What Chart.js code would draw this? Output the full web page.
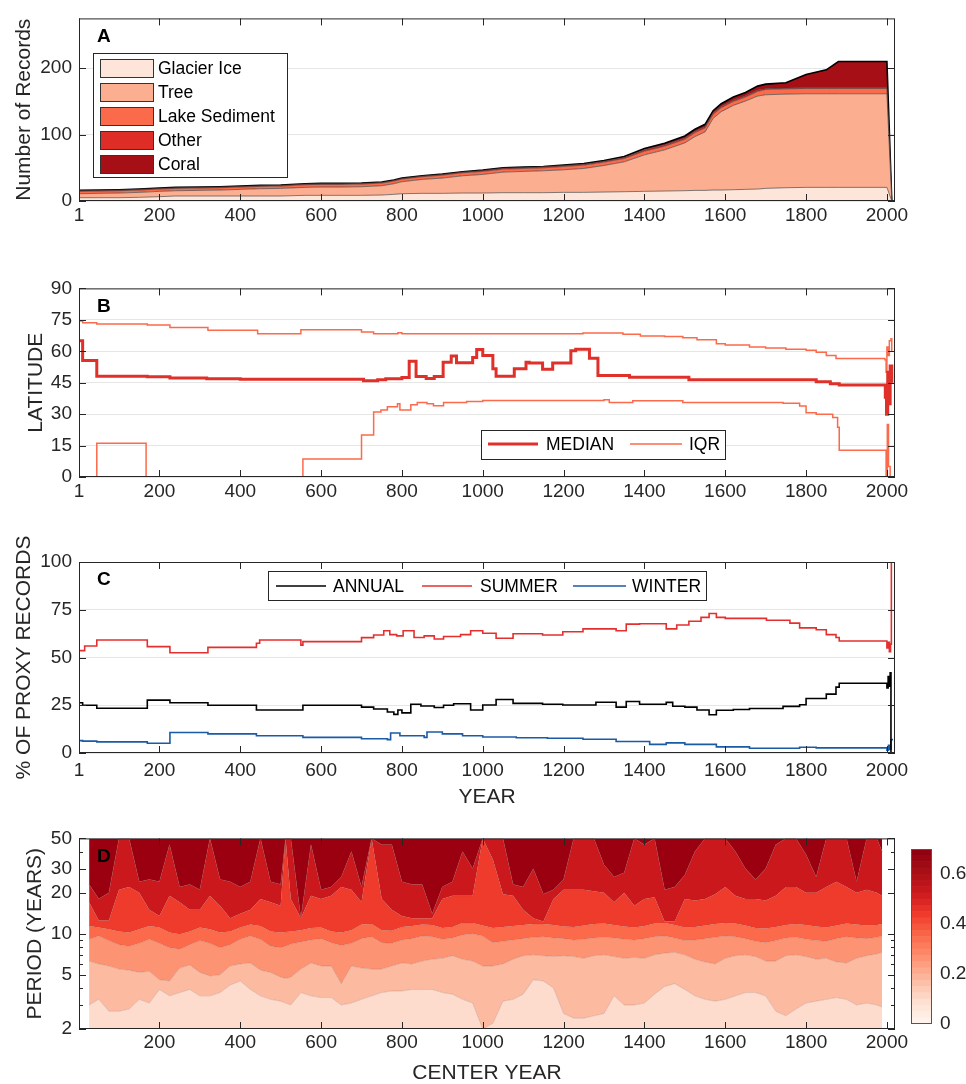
<!DOCTYPE html>
<html lang="en">
<head>
<meta charset="UTF-8">
<title>Proxy records</title>
<script src="https://cdn.jsdelivr.net/npm/chart.js@4"></script>
<style>
  body { margin: 0; background: #fff; }
  #wrap { position: relative; width: 966px; height: 1084px; }
  canvas { position: absolute; left: 0; }
</style>
</head>
<body>
<div id="wrap">
  <canvas id="chartA" width="966" height="240" style="top:0"></canvas>
  <canvas id="chartB" width="966" height="250" style="top:270px"></canvas>
  <canvas id="chartC" width="966" height="285" style="top:530px"></canvas>
  <canvas id="chartD" width="966" height="264" style="top:820px"></canvas>
  <canvas id="colorbar" width="66" height="264" style="top:820px; left:900px"></canvas>
</div>
<script>
// ---- data ----
var xTicks = [1, 200, 400, 600, 800, 1000, 1200, 1400, 1600, 1800, 2000];
var xTicksD = [200, 400, 600, 800, 1000, 1200, 1400, 1600, 1800, 2000];

// A: number of records by archive
var yearsA = [1,50,100,150,200,240,300,350,400,450,500,560,600,650,700,750,780,800,850,900,950,1000,1050,1100,1150,1200,1250,1300,1350,1400,1450,1500,1525,1550,1570,1590,1620,1650,1680,1700,1750,1800,1850,1880,2000,2012];
var glacierIce = [5,5,5,5.5,6.5,7.5,7.5,7.5,7.5,7.5,7.5,8.5,8.5,8.5,8.5,9,10,11,11.5,11.5,12,12,12.5,12.5,12.5,13,13,13.5,14,14.5,15,15.5,16,16,16.5,16.5,17,17.5,18,19,20,20.5,20.5,20.5,20.5,0];
var tree = [6,6.5,7,7.5,8,8,8.5,9,10,11,11.5,12,12.5,12.5,13,14,16,18,21,23,26,28,31,32,33,34,36,40,45,55,62,72,81,88,108,118,127,133,140,141,141,141,141,141,141,0];
var lakeSediment = [3.5,3.5,3.5,3.5,3.5,3.5,3.5,3.5,3.5,3.5,3.5,4,4,4,4,4,4,4,4,4.5,4.5,4.5,4.5,4.5,4.5,5,5,5,5,5.5,5.5,5.5,6,6,6,6,6,6,7,8,8,8,8,8,8,0];
var other = [1,1,1,1,1,1,1,1,1,1,1,1,1,1,1,1,1,1,1,1,1,1.5,1.5,1.5,1.5,1.5,1.5,1.5,1.5,2,2,2,2,2,2,2,2,2,2,1,1,1,1,1,1,0];
var coral = [0.5,0.5,0.5,0.5,0.5,0.5,0.5,0.5,0.5,0.5,0.5,0.5,0.5,0.5,0.5,0.5,0.5,0.5,0.5,0.5,0.5,0.5,0.5,0.5,0.5,0.5,1,1,1.5,2,2.5,3,3,3.5,3.5,4,4.5,5,6,7,8,20,27,39.5,39.5,0];
var recordTicks = [0, 100, 200];

// B: latitude (step series, [year, value])
var medianLat = [[1,65],[10,55.6],[45,48.1],[170,47.8],[226,47.3],[317,46.9],[400,46.6],[700,46.6],[705,45.9],[740,46.4],[760,46.9],[800,47.5],[818,55.2],[835,48],[860,47],[880,48],[902,54.8],[922,57.7],[935,54.5],[975,57],[985,60.8],[1000,58],[1025,51.7],[1033,48.1],[1078,51.7],[1107,54.8],[1115,54.4],[1148,51.4],[1173,54.4],[1218,60.3],[1230,61],[1264,56.7],[1285,48.4],[1363,47.6],[1510,46.4],[1825,45.5],[1860,44.5],[1882,43.9],[1993,43.9],[1996,38],[1999,30],[2002,50],[2005,35],[2008,53],[2012,45]];
var upperIQR = [[1,74.5],[10,73.6],[45,73],[170,72.5],[226,71.3],[320,70],[443,68.4],[550,70.3],[700,69.2],[730,68.3],[790,68.8],[800,68.3],[1000,68.4],[1248,68.7],[1347,68.1],[1390,67.3],[1450,67],[1495,66.4],[1530,65.5],[1578,63.6],[1600,63],[1660,62],[1700,61.5],[1750,61],[1800,60.5],[1825,59.5],[1850,58],[1874,56.5],[1995,56],[1998,50],[2000,62],[2003,58],[2006,65],[2010,66],[2012,60]];
var lowerIQR = [[1,0],[45,16.1],[167,0],[555,8.6],[700,20],[730,31],[748,32],[764,33.5],[789,35],[795,32],[822,34.5],[838,35.5],[862,35],[878,34],[903,35.5],[960,36],[1000,36.5],[1300,36.9],[1313,35.5],[1371,36.4],[1495,35.6],[1743,35.2],[1784,33.9],[1800,30.7],[1825,30],[1866,28.4],[1878,23.75],[1882,12.8],[1995,12.8],[1998,0],[2001,25],[2004,5],[2008,0],[2012,0]];
var latTicks = [0, 15, 30, 45, 60, 75, 90];

// C: % of proxy records by season
var annualPct = [[1,26.3],[10,25],[45,23.4],[170,27.7],[226,26.3],[320,25],[440,22.5],[555,25],[700,24],[730,23],[764,21.5],[780,20.2],[790,22.5],[800,21],[822,25.5],[847,24.6],[880,23.8],[903,25],[928,25.8],[970,22.5],[1000,25.1],[1033,28],[1075,26],[1148,25.5],[1198,25.1],[1280,26.6],[1330,24],[1355,27],[1388,25.5],[1454,26.5],[1470,24.5],[1500,24],[1530,22.5],[1560,20],[1578,22.4],[1620,22.8],[1660,23.3],[1743,24.4],[1784,25.3],[1800,28.5],[1850,30.8],[1874,34.5],[1882,36.5],[1997,36.5],[2000,34],[2003,40],[2006,35],[2008,42],[2010,0],[2015,0]];
var summerPct = [[1,53.6],[15,56],[45,59.2],[170,55.7],[226,52.5],[320,55.3],[440,57.5],[448,59.2],[550,56.5],[555,58.3],[700,60.4],[730,61.8],[755,64],[770,62],[787,61.3],[803,64],[830,60.5],[855,61.3],[880,59.7],[903,61],[945,62],[970,64],[1000,62.7],[1033,60.1],[1075,62.4],[1148,61.8],[1198,63.5],[1248,65],[1330,64],[1355,67.5],[1388,67.7],[1454,65],[1480,67],[1510,69],[1540,71],[1560,73],[1578,71],[1600,70.5],[1702,69.5],[1760,68],[1784,65.5],[1825,64.5],[1850,62],[1874,60.5],[1882,58.6],[1997,58.6],[2000,55],[2003,58],[2006,53],[2009,57],[2011,100],[2015,100]];
var winterPct = [[1,6.5],[10,6.2],[45,5.8],[170,5.1],[226,10.7],[320,10],[440,9],[555,8.2],[700,7.5],[764,7],[772,10.5],[795,9],[855,8.2],[862,11],[900,10],[950,9],[1000,8.4],[1083,8],[1160,7.7],[1248,7.2],[1330,6],[1413,4.5],[1454,5.3],[1500,4.5],[1578,3.2],[1660,2.5],[1743,2.5],[1784,3],[1825,2.7],[1997,2.7],[2000,1.5],[2004,4],[2008,2],[2010,7],[2015,7]];
var pctTicks = [0, 25, 50, 75, 100];

// D: contour band boundaries (period, years) per center year
var yearsD = [26,50,75,100,125,150,175,200,225,250,275,300,325,350,375,400,425,450,475,500,512,525,550,575,600,625,650,675,700,725,750,775,800,825,850,875,900,925,950,975,1000,1025,1050,1075,1100,1125,1150,1175,1200,1225,1250,1275,1300,1325,1350,1375,1400,1425,1450,1475,1500,1525,1550,1575,1600,1625,1650,1675,1700,1725,1750,1775,1800,1825,1850,1875,1900,1925,1950,1975,1988];
var bnd1 = [3.0,3.3,2.7,2.7,2.8,3.3,3.1,3.9,3.5,3.7,3.9,3.5,3.5,3.7,4.2,4.5,3.9,3.5,3.3,3.2, 3.1, 3.0,3.7,3.5,3.4,3.4,3.0,3.1,3.3,3.5,3.7,3.8,3.8,3.9,3.9,3.9,3.7,3.6,3.3,3.1,2.0, 2.2,3.2,3.3,3.6,4.6,4.5,4.0,2.6,2.4,2.4,2.5,2.6,3.5,3.0,3.0,3.1,3.6,4.1,4.3,3.9, 3.5,3.3,3.2,3.3,3.5,3.7,3.7,3.5,2.7,2.5,2.8,3.1,3.2,3.3,3.4,3.3,3.0,3.1,3.0,2.9];
var bnd2 = [6.3,6.0,5.8,5.5,5.4,5.2,5.3,4.6,4.5,5.6,5.9,5.2,4.9,5.0,5.8,6.0,6.1,5.4,5.2,4.8, 4.7, 4.8,5.5,6.1,5.8,5.8,4.3,5.8,5.6,5.5,5.5,5.8,6.1,6.0,6.3,6.5,6.6,6.9,6.5,6.3,5.8, 5.8,6.0,6.5,6.9,7.0,6.9,6.8,6.9,6.8,6.6,6.9,7.0,6.8,6.6,6.7,6.6,7.0,7.2,7.3,7.0, 6.5,6.2,6.0,6.6,6.9,7.0,6.8,6.3,6.3,6.9,7.0,6.8,6.5,6.6,6.2,6.1,6.6,6.9,7.1,7.3];
var bnd3 = [9.1,9.6,8.9,8.3,8.1,8.5,9.1,8.5,7.9,7.7,8.3,8.9,8.5,7.9,8.3,9.1,9.6,9.1,8.1,7.9, 8.1, 8.4,8.7,9.0,9.2,8.6,8.2,8.5,9.2,9.5,8.6,8.5,9.0,9.2,9.6,9.5,9.1,9.3,9.8,10.0,9.6, 8.6,8.8,9.0,9.2,9.4,9.5,9.3,9.2,9.0,9.1,9.3,9.4,9.3,9.1,9.0,9.2,9.5,9.6,9.3,8.9, 9.0,9.2,9.4,9.6,9.5,9.2,8.8,8.6,8.9,9.3,9.4,9.1,8.9,8.8,9.2,9.5,9.3,9.2,9.4,9.6];
var bnd4 = [11.4,11.1,10.8,10.4,10.2,10.8,11.4,11.1,10.2,9.9,10.4,11.1,10.8,10.2,10.4,11.1,11.7,11.4,10.4,10.2, 10.3, 10.4,10.6,11.0,11.1,10.4,10.2,10.6,11.7,11.8,10.6,10.5,11.2,11.4,11.7,11.6,11.0,11.2,12.0,12.0,11.5, 11.0,11.2,11.4,11.6,11.8,11.8,11.6,11.3,11.2,11.5,11.8,11.9,11.6,11.3,11.1,11.4,11.9,12.0,11.6,11.1, 11.2,11.5,11.8,12.0,11.9,11.5,11.0,10.9,11.2,11.6,11.8,11.6,11.3,11.1,11.5,11.9,11.7,11.5,11.6,11.8];
var bnd5 = [17,12.5,12.5,21,22,20,15,13.5,19,17,15,15,19,16,13,14,15,18,17,16, 50, 18,13,19,18,19,22,21,17,50,18,15,13.5,13,13,13,18,19,19,19,50, 35,19.5,19,15,13,12.3,18,21,21,21,20.5,20,17,20,16,18,18.5,12.3,12.3,18, 17.5,18,19.5,22,19,18,18,17.5,19,22,22,20,20,22,24,22,20,21,20,19];
var bnd6 = [23,18,20,50,50,24,25,24,45,22,23,21,50,25,24,22,24,50,24,23, 50, 50,13,45,21,22,26,40,22,50,45,45,24,23,23,14,22,24,40,30,50, 50,50,23,22,30,19.5,21,25,50,50,50,32,26,28,50,45,50,21,22,27, 40,50,50,50,40,30,25,30,45,50,50,38,26,50,50,50,24,50,50,40];
var periodTicks = [2, 5, 10, 20, 30, 50];
var periodMinor = [3, 4, 6, 7, 8, 9, 40];
var cbLevels = [0,0.025,0.05,0.075,0.1,0.125,0.15,0.175,0.2,0.225,0.25,0.275,0.3,0.325,0.35,0.375,0.4,0.425,0.45,0.475,0.5,0.525,0.55,0.575,0.6,0.625,0.65,0.675,0.7];
var cbTicks = [0, 0.2, 0.4, 0.6];

// ---- helpers ----
var FONT = "'Liberation Sans', Arial, Helvetica, sans-serif";
var INK = '#262626';
Chart.defaults.font.family = FONT;
Chart.defaults.color = INK;
Chart.defaults.animation = false;
Chart.defaults.plugins.legend.display = false;
Chart.defaults.plugins.tooltip.enabled = false;
Chart.defaults.elements.point.radius = 0;

function pts(xs, ys) { return xs.map(function (x, i) { return { x: x, y: ys[i] }; }); }
function pairs(arr) { return arr.map(function (p) { return { x: p[0], y: p[1] }; }); }

function xAxis(ticks, pad, h) {
  return {
    type: 'linear', min: 1, max: 2020,
    afterBuildTicks: function (s) { s.ticks = ticks.map(function (v) { return { value: v }; }); },
    afterFit: function (s) { s.height = h; },
    grid: { display: false, drawTicks: false },
    border: { display: false },
    ticks: { padding: pad, font: { size: 19 }, maxRotation: 0, autoSkip: false, callback: function (v) { return String(v); } }
  };
}
function yAxis(min, max, ticks, grid) {
  return {
    type: 'linear', min: min, max: max,
    afterBuildTicks: function (s) { s.ticks = ticks.map(function (v) { return { value: v }; }); },
    afterFit: function (s) { s.width = 79; },
    grid: { display: grid, color: '#e6e6e6', drawTicks: false },
    border: { display: false },
    ticks: { padding: 7, font: { size: 19 }, autoSkip: false, callback: function (v) { return String(v); } }
  };
}

// box, inward ticks, panel letter and axis titles
var frame = {
  id: 'frame',
  afterDatasetsDraw: function (chart, args, o) {
    if (!o || !o.show) return;
    var ctx = chart.ctx, a = chart.chartArea;
    var xs = chart.scales.x, ys = chart.scales.y;
    ctx.save();
    ctx.strokeStyle = o.boxColor || INK;
    ctx.lineWidth = 1;
    ctx.strokeRect(a.left + 0.5, a.top + 0.5, a.right - a.left - 1, a.bottom - a.top - 1);
    if (!o.noTicks) {
      ctx.beginPath();
      xs.ticks.forEach(function (t) {
        var p = Math.round(xs.getPixelForValue(t.value)) + 0.5;
        ctx.moveTo(p, a.bottom); ctx.lineTo(p, a.bottom - 7);
        ctx.moveTo(p, a.top); ctx.lineTo(p, a.top + 7);
      });
      var yt = function (v, len) {
        var p = Math.round(ys.getPixelForValue(v)) + 0.5;
        ctx.moveTo(a.left, p); ctx.lineTo(a.left + len, p);
        ctx.moveTo(a.right, p); ctx.lineTo(a.right - len, p);
      };
      ys.ticks.forEach(function (t) { yt(t.value, 7); });
      (o.minorY || []).forEach(function (v) { yt(v, 4); });
      ctx.stroke();
    }
    ctx.fillStyle = '#000';
    ctx.textBaseline = 'middle';
    if (o.label) {
      ctx.font = 'bold 19px ' + FONT;
      ctx.textAlign = 'left';
      ctx.fillText(o.label, a.left + 18, a.top + 18);
    }
    ctx.fillStyle = INK;
    ctx.font = '21px ' + FONT;
    ctx.textAlign = 'center';
    if (o.yTitle) {
      ctx.save();
      ctx.translate(o.yTitleX, (a.top + a.bottom) / 2);
      ctx.rotate(-Math.PI / 2);
      ctx.fillText(o.yTitle, 0, 0);
      ctx.restore();
    }
    if (o.xTitle) ctx.fillText(o.xTitle, (a.left + a.right) / 2, o.xTitleY);
    ctx.restore();
  }
};

// legend drawn in a box at a fixed place
var boxLegend = {
  id: 'boxLegend',
  afterDraw: function (chart, args, o) {
    if (!o || !o.items) return;
    var ctx = chart.ctx, b = o.box;
    ctx.save();
    ctx.fillStyle = '#fff';
    ctx.fillRect(b[0], b[1], b[2], b[3]);
    ctx.strokeStyle = INK; ctx.lineWidth = 1;
    ctx.strokeRect(b[0] + 0.5, b[1] + 0.5, b[2], b[3]);
    ctx.font = '17.5px ' + FONT;
    ctx.textBaseline = 'middle';
    ctx.textAlign = 'left';
    o.items.forEach(function (it) {
      var ds = chart.data.datasets[it.ds];
      if (o.patch) {
        ctx.fillStyle = ds.backgroundColor;
        ctx.fillRect(it.sx, it.sy - 9, it.sw, 18);
        ctx.strokeStyle = '#333';
        ctx.strokeRect(it.sx + 0.5, it.sy - 8.5, it.sw, 18);
      } else {
        ctx.strokeStyle = ds.borderColor; ctx.lineWidth = ds.borderWidth;
        ctx.beginPath(); ctx.moveTo(it.sx, it.sy); ctx.lineTo(it.sx + it.sw, it.sy); ctx.stroke();
      }
      ctx.fillStyle = '#000';
      ctx.fillText(ds.label, it.tx, it.sy + 1);
    });
    ctx.restore();
  }
};
Chart.register(frame, boxLegend);

// ---- A ----
var edge = 'rgba(60,60,60,0.65)';
var yA = yAxis(0, 275, recordTicks, true);
yA.stacked = true;
new Chart(document.getElementById('chartA'), {
  type: 'line',
  data: { datasets: [
    { label: 'Glacier Ice', data: pts(yearsA, glacierIce), backgroundColor: '#fee5d9', borderColor: edge, borderWidth: 1, fill: 'origin' },
    { label: 'Tree', data: pts(yearsA, tree), backgroundColor: '#fcae91', borderColor: edge, borderWidth: 1, fill: '-1' },
    { label: 'Lake Sediment', data: pts(yearsA, lakeSediment), backgroundColor: '#fb6a4a', borderColor: edge, borderWidth: 1, fill: '-1' },
    { label: 'Other', data: pts(yearsA, other), backgroundColor: '#de2d26', borderColor: edge, borderWidth: 1, fill: '-1' },
    { label: 'Coral', data: pts(yearsA, coral), backgroundColor: '#a50f15', borderColor: '#000', borderWidth: 1.6, fill: '-1' }
  ]},
  options: {
    responsive: false,
    layout: { padding: { top: 9, right: 71, left: 0, bottom: 0 } },
    scales: { x: xAxis(xTicks, 3.5, 39), y: yA },
    plugins: {
      frame: { show: true, label: 'A', yTitle: 'Number of Records', yTitleX: 24 },
      boxLegend: { patch: true, box: [93, 53, 194, 124], items: [
        { ds: 0, sx: 100, sy: 68, sw: 53, tx: 158 },
        { ds: 1, sx: 100, sy: 92, sw: 53, tx: 158 },
        { ds: 2, sx: 100, sy: 116, sw: 53, tx: 158 },
        { ds: 3, sx: 100, sy: 140, sw: 53, tx: 158 },
        { ds: 4, sx: 100, sy: 164, sw: 53, tx: 158 }
      ] }
    }
  }
});

// ---- B ----
new Chart(document.getElementById('chartB'), {
  type: 'line',
  data: { datasets: [
    { label: 'MEDIAN', data: pairs(medianLat), borderColor: '#e0302a', borderWidth: 3, stepped: true, fill: false },
    { label: 'IQR', data: pairs(upperIQR), borderColor: '#fb6a4a', borderWidth: 1.5, stepped: true, fill: false },
    { label: 'IQR', data: pairs(lowerIQR), borderColor: '#fb6a4a', borderWidth: 1.5, stepped: true, fill: false }
  ]},
  options: {
    responsive: false,
    layout: { padding: { top: 15, right: 71, left: 0, bottom: 0 } },
    scales: { x: xAxis(xTicks, 3, 43), y: yAxis(0, 90, latTicks, true) },
    plugins: {
      frame: { show: true, label: 'B', yTitle: 'LATITUDE', yTitleX: 36 },
      boxLegend: { box: [481, 160, 244, 29], items: [
        { ds: 0, sx: 488, sy: 174, sw: 50, tx: 546 },
        { ds: 1, sx: 630, sy: 174, sw: 52, tx: 689 }
      ] }
    }
  }
});

// ---- C ----
new Chart(document.getElementById('chartC'), {
  type: 'line',
  data: { datasets: [
    { label: 'ANNUAL', data: pairs(annualPct), borderColor: '#000', borderWidth: 1.6, stepped: true, fill: false },
    { label: 'SUMMER', data: pairs(summerPct), borderColor: '#e3302f', borderWidth: 1.6, stepped: true, fill: false },
    { label: 'WINTER', data: pairs(winterPct), borderColor: '#1b5aa6', borderWidth: 1.6, stepped: true, fill: false }
  ]},
  options: {
    responsive: false,
    layout: { padding: { top: 32, right: 71, left: 0, bottom: 0 } },
    scales: { x: xAxis(xTicks, 6, 62), y: yAxis(0, 100, pctTicks, true) },
    plugins: {
      frame: { show: true, label: 'C', yTitle: '% OF PROXY RECORDS', yTitleX: 24, xTitle: 'YEAR', xTitleY: 267 },
      boxLegend: { box: [268, 41, 438, 29], items: [
        { ds: 0, sx: 276, sy: 56, sw: 50, tx: 333 },
        { ds: 1, sx: 422, sy: 56, sw: 50, tx: 480 },
        { ds: 2, sx: 573, sy: 56, sw: 53, tx: 632 }
      ] }
    }
  }
});

// ---- D ----
var bandColors = ['#fedccd', '#fcbba1', '#fc9474', '#fb6a4a', '#ef3b2c', '#cb181d', '#9a000f'];
var bounds = [bnd1, bnd2, bnd3, bnd4, bnd5, bnd6];
var dsD = bounds.map(function (b, i) {
  return { data: pts(yearsD, b), fill: i === 0 ? 'start' : '-1', backgroundColor: bandColors[i],
           borderColor: 'rgba(120,70,70,0.3)', borderWidth: 0.7 };
});
dsD.push({ data: pts(yearsD, bnd6), fill: 'end', backgroundColor: bandColors[6], borderColor: 'rgba(150,90,90,0.45)', borderWidth: 0.7 });
var yD = yAxis(2, 50, periodTicks, false);
yD.type = 'logarithmic';
new Chart(document.getElementById('chartD'), {
  type: 'line',
  data: { datasets: dsD },
  options: {
    responsive: false,
    layout: { padding: { top: 17, right: 71, left: 0, bottom: 0 } },
    scales: { x: xAxis(xTicksD, 2.5, 55), y: yD },
    plugins: {
      frame: { show: true, label: 'D', yTitle: 'PERIOD (YEARS)', yTitleX: 35, xTitle: 'CENTER YEAR', xTitleY: 253, minorY: periodMinor }
    }
  }
});

// ---- colorbar ----
var redsStops = ['#fff5f0', '#fee0d2', '#fcbba1', '#fc9272', '#fb6a4a', '#ef3b2c', '#cb181d', '#a50f15', '#8c0010'];
function hexRgb(h) { return [parseInt(h.substr(1, 2), 16), parseInt(h.substr(3, 2), 16), parseInt(h.substr(5, 2), 16)]; }
function reds(t) {
  var p = t * (redsStops.length - 1);
  var i = Math.min(Math.floor(p), redsStops.length - 2), f = p - i;
  var a = hexRgb(redsStops[i]), b = hexRgb(redsStops[i + 1]);
  return 'rgb(' + a.map(function (v, k) { return Math.round(v + (b[k] - v) * f); }).join(',') + ')';
}
var cbTop = cbLevels[cbLevels.length - 1];
var cbSets = cbLevels.slice(1).map(function (hi, i) {
  var lo = cbLevels[i];
  return { data: [hi - lo], backgroundColor: reds((lo + hi) / 2 / cbTop), borderWidth: 0, barPercentage: 1, categoryPercentage: 1 };
});
new Chart(document.getElementById('colorbar'), {
  type: 'bar',
  data: { labels: [''], datasets: cbSets },
  options: {
    responsive: false,
    layout: { padding: { top: 29, right: 0, left: 11, bottom: 60 } },
    scales: {
      x: { display: false, stacked: true },
      y: {
        stacked: true, position: 'right', min: 0, max: 0.7,
        afterBuildTicks: function (s) { s.ticks = cbTicks.map(function (v) { return { value: v }; }); },
        afterFit: function (s) { s.width = 34; },
        grid: { display: false, drawTicks: false },
        border: { display: false },
        ticks: { padding: 8, font: { size: 19 }, callback: function (v) { return v === 0 ? '0' : v.toFixed(1); } }
      }
    },
    plugins: { frame: { show: true, noTicks: true, boxColor: '#555' } }
  }
});
</script>
</body>
</html>
